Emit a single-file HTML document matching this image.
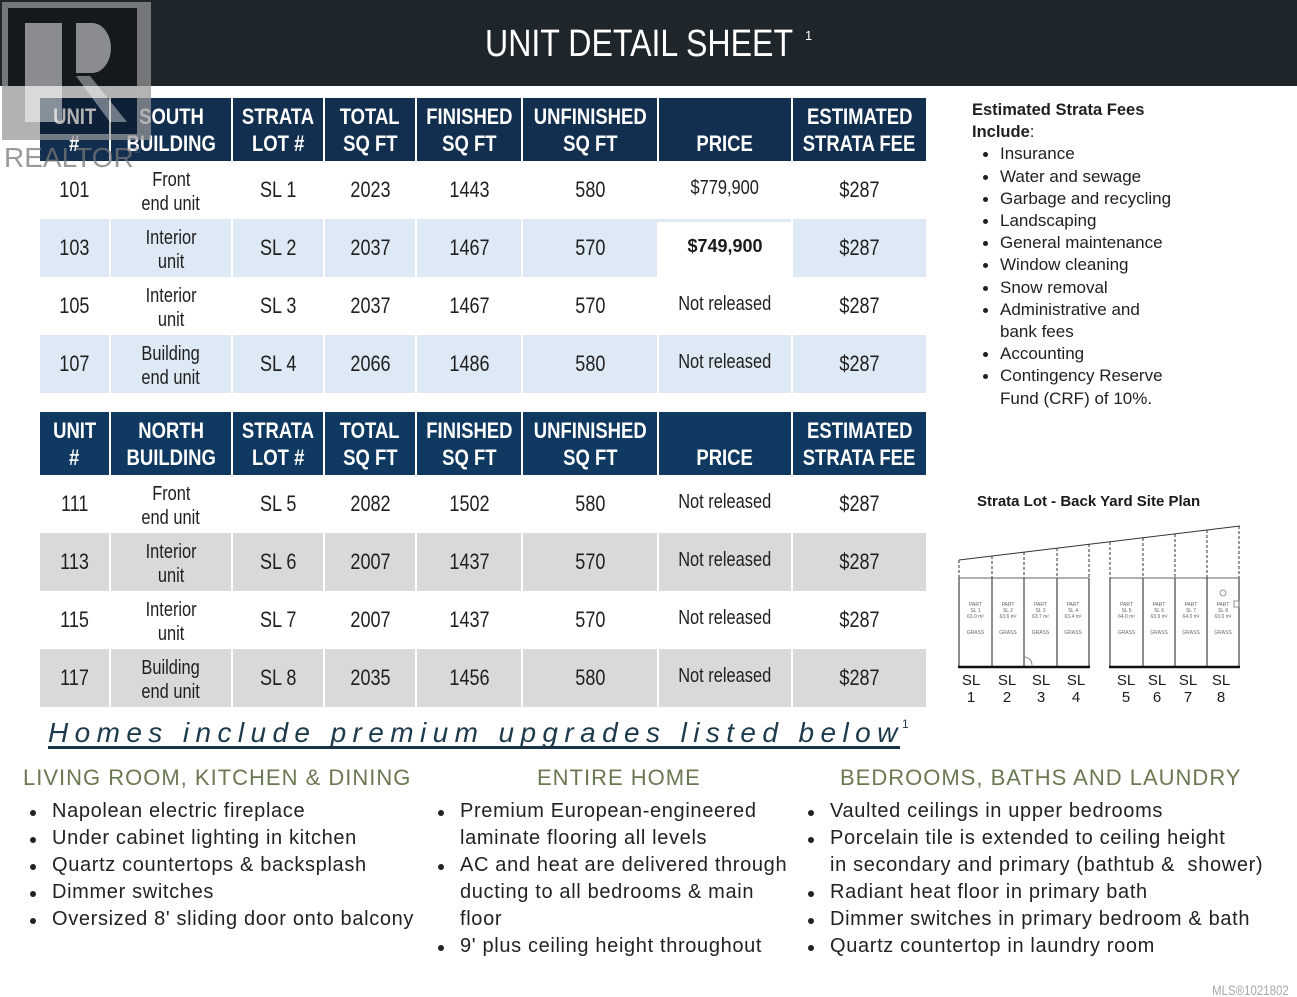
<!DOCTYPE html>
<html>
<head>
<meta charset="utf-8">
<style>
*{margin:0;padding:0;box-sizing:border-box}
html,body{width:1297px;height:997px;background:#fff;overflow:hidden}
body{position:relative;font-family:"Liberation Sans",Arial,sans-serif;color:#1f1f1f}
.band{position:absolute;left:0;top:0;width:1297px;height:86px;background:#1e252b}
.title{position:absolute;left:485px;top:25px;font-size:38px;line-height:38px;color:#fff;white-space:nowrap;transform:scaleX(.845);transform-origin:0 0;letter-spacing:0}
.sup1{position:absolute;left:805px;top:28px;font-size:13px;color:#fff}
.row{position:absolute;left:40px;width:886px}
.c{position:absolute;top:0;bottom:0;display:flex;flex-direction:column;align-items:center;justify-content:center;border-left:2px solid #fff}
.c.f{border-left:none}
.n{display:inline-block;transform:scaleX(.82);white-space:nowrap}
.hd .c{color:#fff;font-weight:700;font-size:22px;line-height:27px}
.hd .n{transform:scaleX(.84)}
.d .c{font-size:22px;line-height:24px;color:#1f1f1f}
.d .c.s{font-size:20px;line-height:24px;padding-top:4px}
.d .c.p{font-size:20px;padding-bottom:5px}
.c0{left:0;width:69px}.c1{left:69px;width:122px}.c2{left:191px;width:92px}.c3{left:283px;width:92px}
.c4{left:375px;width:106px}.c5{left:481px;width:136px}.c6{left:617px;width:134px}.c7{left:751px;width:135px}
.blue{background:#dde9f5}.gray{background:#d9d9d9}
.fees{position:absolute;left:972px;top:99px;font-size:17px;line-height:22.2px;color:#1f1f1f;white-space:nowrap}
.fees b{font-weight:700;font-size:16.5px}
.fees .li{position:relative;padding-left:28px}
.fees .li:before{content:"";position:absolute;left:11px;top:9px;width:5px;height:5px;border-radius:50%;background:#1f1f1f}
.spt{position:absolute;left:977px;top:492px;font-size:15px;font-weight:700;line-height:20px;white-space:nowrap;color:#1a1a1a}
.homes{position:absolute;left:48px;top:716px;font-size:28px;line-height:34px;font-style:italic;letter-spacing:6.4px;color:#1c3a4b;white-space:nowrap}
.uline{position:absolute;left:48px;top:746px;width:852px;height:3px;background:#173345}
.hsup{position:absolute;left:902px;top:717px;font-size:12px;color:#1c3a4b}
.h2{position:absolute;top:765px;font-size:22px;line-height:26px;color:#6b7852;letter-spacing:1px;white-space:nowrap}
.lst{position:absolute;top:798px;font-size:20px;line-height:27px;color:#222;letter-spacing:.65px;white-space:nowrap}
.lst .li{position:relative}
.lst .li:before{content:"";position:absolute;left:-22px;top:12px;width:6px;height:6px;border-radius:50%;background:#222}
.mls{position:absolute;left:1212px;top:982px;font-size:14px;color:#a8a8a8;white-space:nowrap;transform:scaleX(.82);transform-origin:0 0}
.wm{position:absolute;left:0;top:0}
</style>
</head>
<body>
<div class="band"></div>
<div class="title">UNIT DETAIL SHEET</div>
<div class="sup1">1</div>

<!-- SOUTH TABLE -->
<div class="row hd" style="top:98px;height:63px;background:#132f4f">
  <div class="c c0 f"><div><span class="n">UNIT</span></div><div><span class="n">#</span></div></div>
  <div class="c c1"><div><span class="n">SOUTH</span></div><div><span class="n">BUILDING</span></div></div>
  <div class="c c2"><div><span class="n">STRATA</span></div><div><span class="n">LOT #</span></div></div>
  <div class="c c3"><div><span class="n">TOTAL</span></div><div><span class="n">SQ FT</span></div></div>
  <div class="c c4"><div><span class="n">FINISHED</span></div><div><span class="n">SQ FT</span></div></div>
  <div class="c c5"><div><span class="n">UNFINISHED</span></div><div><span class="n">SQ FT</span></div></div>
  <div class="c c6"><div>&nbsp;</div><div><span class="n">PRICE</span></div></div>
  <div class="c c7"><div><span class="n">ESTIMATED</span></div><div><span class="n">STRATA FEE</span></div></div>
</div>
<div class="row d" style="top:161px;height:58px">
  <div class="c c0 f"><span class="n">101</span></div>
  <div class="c c1 s"><div><span class="n">Front</span></div><div><span class="n">end unit</span></div></div>
  <div class="c c2"><span class="n">SL 1</span></div>
  <div class="c c3"><span class="n">2023</span></div>
  <div class="c c4"><span class="n">1443</span></div>
  <div class="c c5"><span class="n">580</span></div>
  <div class="c c6 p"><span class="n">$779,900</span></div>
  <div class="c c7"><span class="n">$287</span></div>
</div>
<div class="row d blue" style="top:219px;height:58px">
  <div class="c c0 f"><span class="n">103</span></div>
  <div class="c c1 s"><div><span class="n">Interior</span></div><div><span class="n">unit</span></div></div>
  <div class="c c2"><span class="n">SL 2</span></div>
  <div class="c c3"><span class="n">2037</span></div>
  <div class="c c4"><span class="n">1467</span></div>
  <div class="c c5"><span class="n">570</span></div>
  <div class="c c6" style="background:#fff;top:3px;padding-bottom:8px;font-size:18px;font-weight:700;color:#1a1a1a">$749,900</div>
  <div class="c c7"><span class="n">$287</span></div>
</div>
<div class="row d" style="top:277px;height:58px">
  <div class="c c0 f"><span class="n">105</span></div>
  <div class="c c1 s"><div><span class="n">Interior</span></div><div><span class="n">unit</span></div></div>
  <div class="c c2"><span class="n">SL 3</span></div>
  <div class="c c3"><span class="n">2037</span></div>
  <div class="c c4"><span class="n">1467</span></div>
  <div class="c c5"><span class="n">570</span></div>
  <div class="c c6 p"><span class="n">Not released</span></div>
  <div class="c c7"><span class="n">$287</span></div>
</div>
<div class="row d blue" style="top:335px;height:58px">
  <div class="c c0 f"><span class="n">107</span></div>
  <div class="c c1 s"><div><span class="n">Building</span></div><div><span class="n">end unit</span></div></div>
  <div class="c c2"><span class="n">SL 4</span></div>
  <div class="c c3"><span class="n">2066</span></div>
  <div class="c c4"><span class="n">1486</span></div>
  <div class="c c5"><span class="n">580</span></div>
  <div class="c c6 p"><span class="n">Not released</span></div>
  <div class="c c7"><span class="n">$287</span></div>
</div>

<!-- NORTH TABLE -->
<div class="row hd" style="top:412px;height:63px;background:#0f3960">
  <div class="c c0 f"><div><span class="n">UNIT</span></div><div><span class="n">#</span></div></div>
  <div class="c c1"><div><span class="n">NORTH</span></div><div><span class="n">BUILDING</span></div></div>
  <div class="c c2"><div><span class="n">STRATA</span></div><div><span class="n">LOT #</span></div></div>
  <div class="c c3"><div><span class="n">TOTAL</span></div><div><span class="n">SQ FT</span></div></div>
  <div class="c c4"><div><span class="n">FINISHED</span></div><div><span class="n">SQ FT</span></div></div>
  <div class="c c5"><div><span class="n">UNFINISHED</span></div><div><span class="n">SQ FT</span></div></div>
  <div class="c c6"><div>&nbsp;</div><div><span class="n">PRICE</span></div></div>
  <div class="c c7"><div><span class="n">ESTIMATED</span></div><div><span class="n">STRATA FEE</span></div></div>
</div>
<div class="row d" style="top:475px;height:58px">
  <div class="c c0 f"><span class="n">111</span></div>
  <div class="c c1 s"><div><span class="n">Front</span></div><div><span class="n">end unit</span></div></div>
  <div class="c c2"><span class="n">SL 5</span></div>
  <div class="c c3"><span class="n">2082</span></div>
  <div class="c c4"><span class="n">1502</span></div>
  <div class="c c5"><span class="n">580</span></div>
  <div class="c c6 p"><span class="n">Not released</span></div>
  <div class="c c7"><span class="n">$287</span></div>
</div>
<div class="row d gray" style="top:533px;height:58px">
  <div class="c c0 f"><span class="n">113</span></div>
  <div class="c c1 s"><div><span class="n">Interior</span></div><div><span class="n">unit</span></div></div>
  <div class="c c2"><span class="n">SL 6</span></div>
  <div class="c c3"><span class="n">2007</span></div>
  <div class="c c4"><span class="n">1437</span></div>
  <div class="c c5"><span class="n">570</span></div>
  <div class="c c6 p"><span class="n">Not released</span></div>
  <div class="c c7"><span class="n">$287</span></div>
</div>
<div class="row d" style="top:591px;height:58px">
  <div class="c c0 f"><span class="n">115</span></div>
  <div class="c c1 s"><div><span class="n">Interior</span></div><div><span class="n">unit</span></div></div>
  <div class="c c2"><span class="n">SL 7</span></div>
  <div class="c c3"><span class="n">2007</span></div>
  <div class="c c4"><span class="n">1437</span></div>
  <div class="c c5"><span class="n">570</span></div>
  <div class="c c6 p"><span class="n">Not released</span></div>
  <div class="c c7"><span class="n">$287</span></div>
</div>
<div class="row d gray" style="top:649px;height:58px">
  <div class="c c0 f"><span class="n">117</span></div>
  <div class="c c1 s"><div><span class="n">Building</span></div><div><span class="n">end unit</span></div></div>
  <div class="c c2"><span class="n">SL 8</span></div>
  <div class="c c3"><span class="n">2035</span></div>
  <div class="c c4"><span class="n">1456</span></div>
  <div class="c c5"><span class="n">580</span></div>
  <div class="c c6 p"><span class="n">Not released</span></div>
  <div class="c c7"><span class="n">$287</span></div>
</div>

<!-- Fees panel -->
<div class="fees">
  <div><b>Estimated Strata Fees</b></div>
  <div><b>Include</b>:</div>
  <div class="li">Insurance</div>
  <div class="li">Water and sewage</div>
  <div class="li">Garbage and recycling</div>
  <div class="li">Landscaping</div>
  <div class="li">General maintenance</div>
  <div class="li">Window cleaning</div>
  <div class="li">Snow removal</div>
  <div class="li">Administrative and</div>
  <div style="padding-left:28px">bank fees</div>
  <div class="li">Accounting</div>
  <div class="li">Contingency Reserve</div>
  <div style="padding-left:28px">Fund (CRF) of 10%.</div>
</div>

<!-- Site plan -->
<div class="spt">Strata Lot - Back Yard Site Plan</div>
<svg style="position:absolute;left:0;top:0" width="1297" height="997">
  <g stroke="#333" fill="none">
    <line x1="959" y1="560" x2="1240" y2="526" stroke-width="1"/>
    <g stroke-dasharray="3,2" stroke-width="1">
      <line x1="959" y1="560" x2="959" y2="578"/>
      <line x1="992" y1="556" x2="992" y2="578"/>
      <line x1="1024" y1="552" x2="1024" y2="578"/>
      <line x1="1057" y1="548" x2="1057" y2="578"/>
      <line x1="1089" y1="544" x2="1089" y2="578"/>
      <line x1="1110" y1="542" x2="1110" y2="578"/>
      <line x1="1143" y1="538" x2="1143" y2="578"/>
      <line x1="1175" y1="534" x2="1175" y2="578"/>
      <line x1="1207" y1="530" x2="1207" y2="578"/>
      <line x1="1239" y1="526" x2="1239" y2="578"/>
    </g>
    <line x1="959" y1="578" x2="1089" y2="578" stroke="#666" stroke-width="1"/>
    <line x1="1110" y1="578" x2="1239" y2="578" stroke="#666" stroke-width="1"/>
    <g stroke-width="1.1">
      <line x1="959" y1="578" x2="959" y2="667"/>
      <line x1="992" y1="578" x2="992" y2="667"/>
      <line x1="1024" y1="578" x2="1024" y2="667"/>
      <line x1="1057" y1="578" x2="1057" y2="667"/>
      <line x1="1089" y1="578" x2="1089" y2="667"/>
      <line x1="1110" y1="578" x2="1110" y2="667"/>
      <line x1="1143" y1="578" x2="1143" y2="667"/>
      <line x1="1175" y1="578" x2="1175" y2="667"/>
      <line x1="1207" y1="578" x2="1207" y2="667"/>
      <line x1="1239" y1="578" x2="1239" y2="667"/>
    </g>
    <line x1="958" y1="667" x2="1090" y2="667" stroke="#111" stroke-width="2.5"/>
    <line x1="1109" y1="667" x2="1240" y2="667" stroke="#111" stroke-width="2.5"/>
    <path d="M1024 657 a8 8 0 0 1 8 8" stroke="#666" stroke-width=".8"/>
    <circle cx="1223" cy="593" r="3" stroke="#777" stroke-width=".8"/>
    <rect x="1234" y="601" width="5" height="6" stroke="#777" stroke-width=".8"/>
  </g>
  <g font-family="Liberation Sans, Arial, sans-serif" font-size="5" fill="#666" text-anchor="middle">
    <text x="975.5" y="606">PART</text><text x="975.5" y="612">SL 1</text><text x="975.5" y="618">63.0 m²</text><text x="975.5" y="634">GRASS</text>
    <text x="1008" y="606">PART</text><text x="1008" y="612">SL 2</text><text x="1008" y="618">63.6 m²</text><text x="1008" y="634">GRASS</text>
    <text x="1040.5" y="606">PART</text><text x="1040.5" y="612">SL 3</text><text x="1040.5" y="618">63.7 m²</text><text x="1040.5" y="634">GRASS</text>
    <text x="1073" y="606">PART</text><text x="1073" y="612">SL 4</text><text x="1073" y="618">63.4 m²</text><text x="1073" y="634">GRASS</text>
    <text x="1126.5" y="606">PART</text><text x="1126.5" y="612">SL 5</text><text x="1126.5" y="618">64.0 m²</text><text x="1126.5" y="634">GRASS</text>
    <text x="1159" y="606">PART</text><text x="1159" y="612">SL 6</text><text x="1159" y="618">63.9 m²</text><text x="1159" y="634">GRASS</text>
    <text x="1191" y="606">PART</text><text x="1191" y="612">SL 7</text><text x="1191" y="618">64.0 m²</text><text x="1191" y="634">GRASS</text>
    <text x="1223" y="606">PART</text><text x="1223" y="612">SL 8</text><text x="1223" y="618">63.0 m²</text><text x="1223" y="634">GRASS</text>
  </g>
  <g font-family="Liberation Sans, Arial, sans-serif" font-size="15" fill="#1a1a1a" text-anchor="middle">
    <text x="971" y="685">SL</text><text x="971" y="702">1</text>
    <text x="1007" y="685">SL</text><text x="1007" y="702">2</text>
    <text x="1041" y="685">SL</text><text x="1041" y="702">3</text>
    <text x="1076" y="685">SL</text><text x="1076" y="702">4</text>
    <text x="1126" y="685">SL</text><text x="1126" y="702">5</text>
    <text x="1157" y="685">SL</text><text x="1157" y="702">6</text>
    <text x="1188" y="685">SL</text><text x="1188" y="702">7</text>
    <text x="1221" y="685">SL</text><text x="1221" y="702">8</text>
  </g>
</svg>

<!-- Bottom section -->
<div class="homes">Homes include premium upgrades listed below</div>
<div class="uline"></div>
<div class="hsup">1</div>

<div class="h2" style="left:23px">LIVING ROOM, KITCHEN &amp; DINING</div>
<div class="h2" style="left:537px">ENTIRE HOME</div>
<div class="h2" style="left:840px">BEDROOMS, BATHS AND LAUNDRY</div>

<div class="lst" style="left:52px">
  <div class="li">Napolean electric fireplace</div>
  <div class="li">Under cabinet lighting in kitchen</div>
  <div class="li">Quartz countertops &amp; backsplash</div>
  <div class="li">Dimmer switches</div>
  <div class="li">Oversized 8' sliding door onto balcony</div>
</div>
<div class="lst" style="left:460px">
  <div class="li">Premium European-engineered</div>
  <div>laminate flooring all levels</div>
  <div class="li">AC and heat are delivered through</div>
  <div>ducting to all bedrooms &amp; main</div>
  <div>floor</div>
  <div class="li">9' plus ceiling height throughout</div>
</div>
<div class="lst" style="left:830px">
  <div class="li">Vaulted ceilings in upper bedrooms</div>
  <div class="li">Porcelain tile is extended to ceiling height</div>
  <div>in secondary and primary (bathtub &amp;&nbsp; shower)</div>
  <div class="li">Radiant heat floor in primary bath</div>
  <div class="li">Dimmer switches in primary bedroom &amp; bath</div>
  <div class="li">Quartz countertop in laundry room</div>
</div>

<div class="mls">MLS®1021802</div>

<!-- REALTOR watermark -->
<svg class="wm" width="160" height="175">
  <path d="M2 2H151V140H2Z M8 8V134H137V8Z" fill-rule="evenodd" fill="rgba(150,150,150,0.72)"/>
  <rect x="8" y="8" width="129" height="126" fill="rgba(0,0,0,0.3)"/>
  <rect x="25" y="23" width="37" height="99" fill="rgba(255,255,255,0.5)"/>
  <path d="M76 23H92A19 25 0 0 1 92 73H76Z" fill="rgba(255,255,255,0.5)"/>
  <path d="M76 76H90L127 122H110Z" fill="rgba(255,255,255,0.4)"/>
  <text x="4" y="167" font-family="Liberation Sans, Arial, sans-serif" font-size="28" fill="rgba(120,120,120,0.75)">REALTOR<tspan font-size="9" dy="-14">®</tspan></text>
</svg>
</body>
</html>
